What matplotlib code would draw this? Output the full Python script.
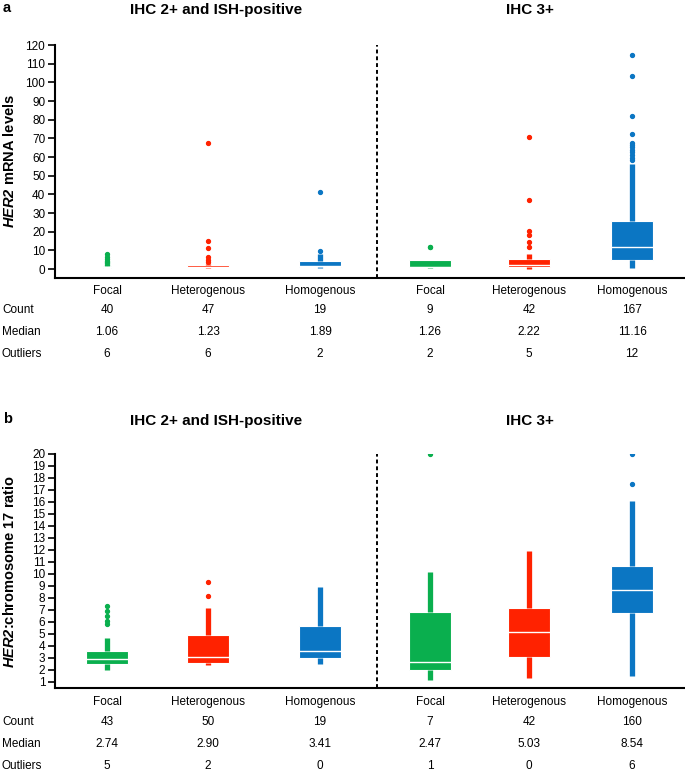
import matplotlib
matplotlib.use("Agg")
import matplotlib.pyplot as plt

W, H = 685, 772

groups = ["Focal", "Heterogenous", "Homogenous", "Focal", "Heterogenous", "Homogenous"]
colors = ["#0aaf4e", "#ff2200", "#0b76c3", "#0aaf4e", "#ff2200", "#0b76c3"]

# panel a: HER2 mRNA levels (box stats)
mrna_whislo = [0.4, 0.3, 0.5, 0.8, 0.2, 0.7]
mrna_q1 = [0.7, 0.9, 1.2, 1.3, 1.1, 4.8]
mrna_med = [1.06, 1.23, 1.89, 1.26, 2.22, 11.6]
mrna_q3 = [1.8, 2.1, 4.4, 4.6, 5.5, 25.7]
mrna_whishi = [2.5, 2.6, 7.8, 4.6, 8.2, 56.1]
mrna_fliers = [
    [3.0, 3.6, 4.2, 5.2, 6.5, 7.9],
    [3.6, 4.8, 6.6, 11.4, 15.0, 67.5],
    [9.6, 41.4],
    [11.6, 12.0],
    [11.8, 14.6, 18.2, 20.3, 36.8, 70.5],
    [58.2, 59.5, 61.0, 62.5, 63.9, 65.2, 66.3, 67.5, 72.1, 82.1, 103.6, 114.6],
]
mrna_count = ["40", "47", "19", "9", "42", "167"]
mrna_median_txt = ["1.06", "1.23", "1.89", "1.26", "2.22", "11.16"]
mrna_outliers = ["6", "6", "2", "2", "5", "12"]

# panel b: HER2:chromosome 17 ratio
ratio_whislo = [2.0, 2.44, 2.47, 1.2, 1.3, 1.5]
ratio_q1 = [2.5, 2.6, 3.03, 2.0, 3.06, 6.72]
ratio_med = [2.94, 3.1, 3.6, 2.64, 5.17, 8.64]
ratio_q3 = [3.58, 4.94, 5.67, 6.8, 7.2, 10.67]
ratio_whishi = [4.7, 7.2, 8.9, 10.2, 11.9, 16.1]
ratio_fliers = [
    [5.8, 6.1, 6.5, 6.94, 7.36],
    [8.2, 9.36],
    [],
    [20.0],
    [],
    [17.5, 20.0],
]
ratio_count = ["43", "50", "19", "7", "42", "160"]
ratio_median_txt = ["2.74", "2.90", "3.41", "2.47", "5.03", "8.54"]
ratio_outliers = ["5", "2", "0", "1", "0", "6"]

# layout (pixel units; x axis spans the figure pixels 55..685)
positions = [107, 208, 320, 430, 529, 632]

plt.rcParams.update({
    "font.family": ["Liberation Sans", "DejaVu Sans"],
    "mathtext.fontset": "custom",
    "mathtext.rm": "Liberation Sans",
    "mathtext.it": "Liberation Sans:italic",
    "mathtext.bf": "Liberation Sans:bold",
    "mathtext.bfit": "Liberation Sans:bold:italic",
})

fig = plt.figure(figsize=(W / 100, H / 100), dpi=100, facecolor="white")


def fx(px):
    return px / W


def fy(py):
    return 1 - py / H


def panel(top, bottom, ylim, yticks, stats, widths, ylabel):
    ax = fig.add_axes([fx(55), fy(bottom), 1 - fx(55), (bottom - top) / H])
    for i in range(6):
        wl, q1, md, q3, wh, fl = stats[0][i], stats[1][i], stats[2][i], stats[3][i], stats[4][i], stats[5][i]
        st = [dict(whislo=wl, q1=q1, med=md, q3=q3, whishi=wh, fliers=fl)]
        ax.bxp(st, positions=[positions[i]], widths=[widths[i]], patch_artist=True,
               showcaps=False, manage_ticks=False,
               boxprops=dict(facecolor=colors[i], edgecolor="white", linewidth=0.8),
               whiskerprops=dict(color=colors[i], linewidth=3.8, solid_capstyle="butt"),
               medianprops=dict(color="white", linewidth=1.0),
               flierprops=dict(marker="o", markersize=2.8, markerfacecolor=colors[i],
                               markeredgecolor=colors[i], linestyle="none"))
    ax.set_xlim(55, 685)
    ax.set_ylim(*ylim)
    ax.set_yticks(yticks)
    ax.set_xticks([])
    ax.tick_params(axis="y", direction="out", length=5, width=1.2, labelsize=8.5, pad=2)
    for s in ["top", "right"]:
        ax.spines[s].set_visible(False)
    ax.spines["left"].set_linewidth(1.5)
    ax.spines["bottom"].set_linewidth(1.5)
    ax.axvline(377, color="black", linestyle=(0, (2, 1.5)), linewidth=1.4)
    ax.patch.set_alpha(0)
    fig.text(fx(10), fy((top + bottom) / 2), ylabel, fontsize=10.5, fontweight="bold",
             rotation=90, ha="center", va="center")
    return ax


panel(45, 278, (-4.8, 120), list(range(0, 121, 10)),
      (mrna_whislo, mrna_q1, mrna_med, mrna_q3, mrna_whishi, mrna_fliers),
      [8, 42, 42, 42, 42, 42], r"$\bfit{HER2}$ mRNA levels")
panel(454, 688, (0.5, 20), list(range(1, 21)),
      (ratio_whislo, ratio_q1, ratio_med, ratio_q3, ratio_whishi, ratio_fliers),
      [42, 42, 42, 42, 42, 42], r"$\bfit{HER2}$:chromosome 17 ratio")

# titles and panel letters
for ty, letter in [(10, "a"), (421, "b")]:
    fig.text(fx(3), fy(ty - 2), letter, fontsize=10.5, fontweight="bold", va="center", ha="left")
    fig.text(fx(216), fy(ty), "IHC 2+ and ISH-positive", fontsize=11, fontweight="bold", va="center", ha="center")
    fig.text(fx(530), fy(ty), "IHC 3+", fontsize=11, fontweight="bold", va="center", ha="center")

# tables beneath
tables = [
    (291, [310, 332, 354], [mrna_count, mrna_median_txt, mrna_outliers]),
    (702, [722, 744, 766], [ratio_count, ratio_median_txt, ratio_outliers]),
]
for cat_y, row_ys, rows in tables:
    for p, g in zip(positions, groups):
        fig.text(fx(p), fy(cat_y), g, fontsize=8.5, ha="center", va="center")
    for ry, name, vals in zip(row_ys, ["Count", "Median", "Outliers"], rows):
        fig.text(fx(2), fy(ry), name, fontsize=8.5, ha="left", va="center")
        for p, v in zip(positions, vals):
            fig.text(fx(p), fy(ry), v, fontsize=8.5, ha="center", va="center")

fig.savefig("out.png", dpi=100)
